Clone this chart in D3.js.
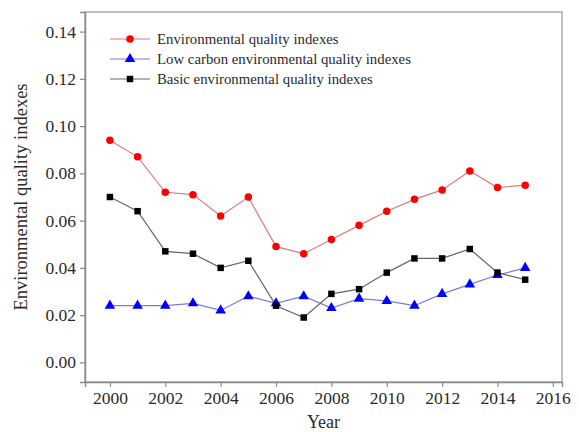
<!DOCTYPE html>
<html>
<head>
<meta charset="utf-8">
<script src="https://cdn.jsdelivr.net/npm/d3@7"></script>
<style>
  html, body { margin: 0; padding: 0; background: #fff; }
  svg { display: block; }
</style>
</head>
<body>
<svg id="chart" width="579" height="432"></svg>
<script>
// Index data, 2000–2015
const years = [2000, 2001, 2002, 2003, 2004, 2005, 2006, 2007, 2008, 2009, 2010, 2011, 2012, 2013, 2014, 2015];
const environmental = [0.094, 0.087, 0.072, 0.071, 0.062, 0.070, 0.049, 0.046, 0.052, 0.058, 0.064, 0.069, 0.073, 0.081, 0.074, 0.075];
const lowCarbon = [0.024, 0.024, 0.024, 0.025, 0.022, 0.028, 0.025, 0.028, 0.023, 0.027, 0.026, 0.024, 0.029, 0.033, 0.037, 0.040];
const basic = [0.070, 0.064, 0.047, 0.046, 0.040, 0.043, 0.024, 0.019, 0.029, 0.031, 0.038, 0.044, 0.044, 0.048, 0.038, 0.035];
const seriesNames = ["Environmental quality indexes", "Low carbon environmental quality indexes", "Basic environmental quality indexes"];
const xTicks = [2000, 2002, 2004, 2006, 2008, 2010, 2012, 2014, 2016];
const yTicks = [0.00, 0.02, 0.04, 0.06, 0.08, 0.10, 0.12, 0.14];

const FONT = "Liberation Serif, Times New Roman, serif";
const svg = d3.select("#chart").attr("font-family", FONT);
const plotLeft = 85, plotRight = 562, plotTop = 12, plotBottom = 382;

const x = d3.scaleLinear().domain([1999.1, 2016.33]).range([plotLeft, plotRight]);
const y = d3.scaleLinear().domain([-0.0083, 0.1483]).range([plotBottom, plotTop]);

const axisColor = "#8a8a8a";

// Frame
svg.append("rect")
  .attr("x", plotLeft).attr("y", plotTop)
  .attr("width", plotRight - plotLeft).attr("height", plotBottom - plotTop)
  .attr("fill", "none").attr("stroke", "#aaa").attr("stroke-width", 1.5);

// Axes
const xAxis = svg.append("g")
  .attr("transform", `translate(0,${plotBottom})`)
  .call(d3.axisBottom(x).tickValues(xTicks).tickFormat(d3.format("d")).tickSize(5).tickPadding(5));
const yAxis = svg.append("g")
  .attr("transform", `translate(${plotLeft},0)`)
  .call(d3.axisLeft(y).tickValues(yTicks).tickFormat(d3.format(".2f")).tickSize(5).tickPadding(4));

[xAxis, yAxis].forEach(g => {
  g.attr("font-family", FONT).attr("font-size", 17.5);
  g.select(".domain").attr("stroke", axisColor).attr("stroke-width", 1.5);
  g.selectAll(".tick line").attr("stroke", axisColor).attr("stroke-width", 1.2);
  g.selectAll(".tick text").attr("fill", "#2a2a2a");
});

// Axis titles
svg.append("text")
  .attr("x", (plotLeft + plotRight) / 2).attr("y", 428)
  .attr("text-anchor", "middle")
  .attr("font-size", 18).attr("fill", "#2a2a2a")
  .text("Year");
svg.append("text")
  .attr("transform", `translate(27,${(plotTop + plotBottom) / 2}) rotate(-90)`)
  .attr("text-anchor", "middle")
  .attr("font-size", 18.5).attr("fill", "#2a2a2a")
  .text("Environmental quality indexes");

const series = [
  { name: seriesNames[0], values: environmental, line: "#e07a7a", fill: "#ff0000", shape: d3.symbolCircle, size: 44 },
  { name: seriesNames[1], values: lowCarbon, line: "#7a7ae0", fill: "#0000ff", shape: d3.symbolTriangle, size: 48 },
  { name: seriesNames[2], values: basic, line: "#666666", fill: "#000000", shape: d3.symbolSquare, size: 42 }
];

const line = d3.line().x((d, i) => x(years[i])).y(d => y(d));

series.forEach(s => {
  svg.append("path")
    .datum(s.values)
    .attr("d", line)
    .attr("fill", "none")
    .attr("stroke", s.line)
    .attr("stroke-width", 1.2);
});

series.forEach(s => {
  svg.append("g").selectAll("path")
    .data(s.values)
    .join("path")
    .attr("transform", (d, i) => `translate(${x(years[i])},${y(d)})`)
    .attr("d", d3.symbol().type(s.shape).size(s.size))
    .attr("fill", s.fill);
});

// Legend
const legend = svg.append("g");
series.forEach((s, i) => {
  const ly = 39 + i * 20;
  legend.append("line")
    .attr("x1", 110).attr("x2", 150).attr("y1", ly).attr("y2", ly)
    .attr("stroke", s.line).attr("stroke-width", 1.2);
  legend.append("path")
    .attr("transform", `translate(130,${ly})`)
    .attr("d", d3.symbol().type(s.shape).size(s.size))
    .attr("fill", s.fill);
  legend.append("text")
    .attr("x", 157).attr("y", ly + 5)
    .attr("font-size", 14.8).attr("fill", "#2a2a2a")
    .text(s.name);
});
</script>
</body>
</html>
